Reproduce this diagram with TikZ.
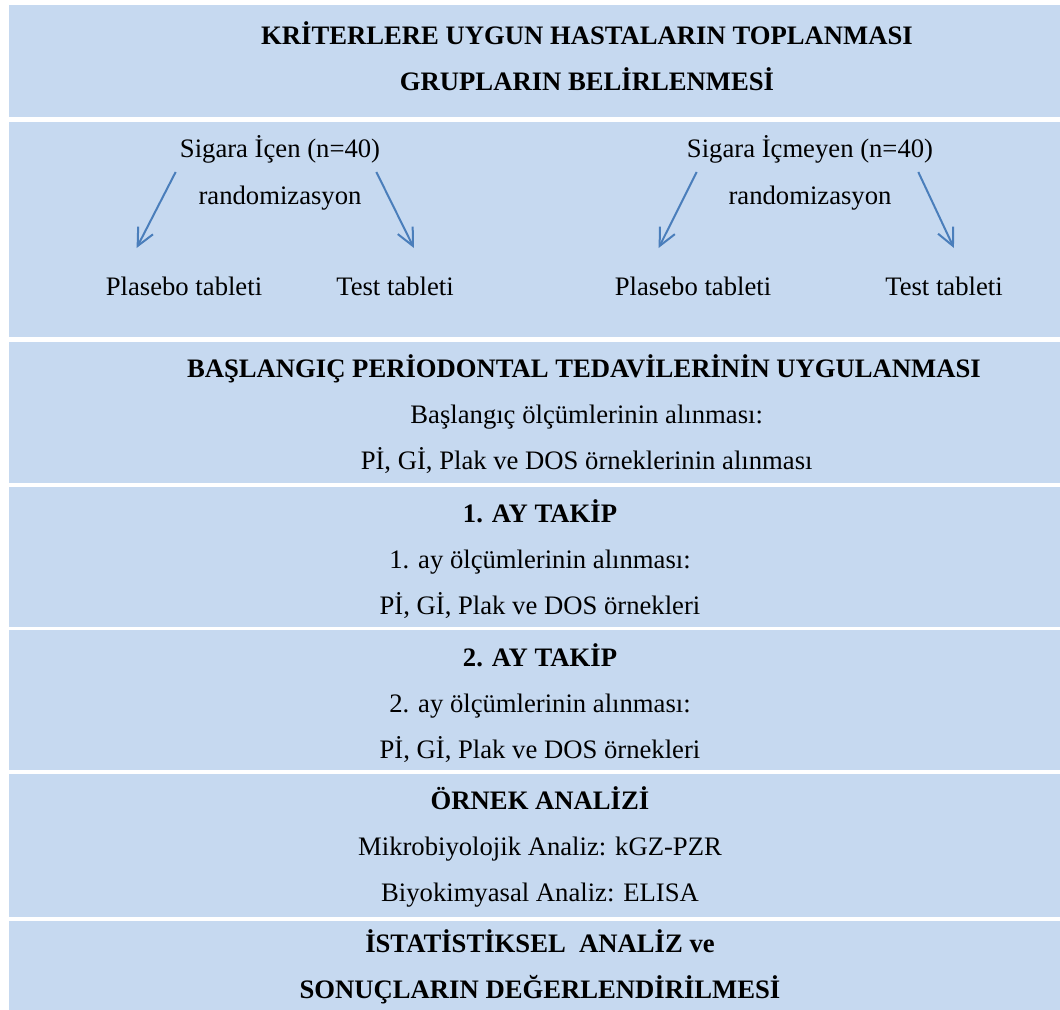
\documentclass[tikz,border=0pt]{standalone}
\usepackage{fontspec}
\setmainfont{Liberation Serif}
\usetikzlibrary{calc,arrows.meta}
\definecolor{bandblue}{HTML}{C6D9F0}
\definecolor{arrowblue}{HTML}{4A7EBB}
\tikzstyle{band} = [fill=bandblue]
\tikzstyle{txt} = [inner sep=0pt, text height=14pt, text depth=5pt, font=\fontsize{20}{24}\selectfont]
\tikzstyle{head} = [txt, font=\fontsize{20}{24}\selectfont\bfseries]
\tikzstyle{line} = [draw=arrowblue, line width=1.5pt, -{Straight Barb[length=13pt,width=12.5pt]}]

\begin{document}
\begin{tikzpicture}[x=0.75pt, y=-0.75pt, node distance=34.5pt]
        \useasboundingbox (0,0) rectangle (1060,1010);
        % background bands
        \foreach \top/\bot in {5/117, 122/337, 342/483, 487/627, 630/770, 774/917, 921/1010}
            \fill[band] (9,\top) rectangle (1060,\bot);
        % title
        \node[head, anchor=base] (kriter) at (587,44) {KRİTERLERE UYGUN HASTALARIN TOPLANMASI};
        \node[head, below of=kriter] (grup) {GRUPLARIN BELİRLENMESİ};
        % groups
        \node[txt, anchor=base] (icen) at (280,157) {Sigara İçen (n=40)};
        \node[txt, below of=icen, yshift=-1pt] (rand1) {randomizasyon};
        \node[txt, anchor=base] (plas1) at (184,295) {Plasebo tableti};
        \node[txt, anchor=base] (test1) at (395,295) {Test tableti};
        \node[txt, anchor=base] (icmez) at (810,157) {Sigara İçmeyen (n=40)};
        \node[txt, below of=icmez, yshift=-1pt] (rand2) {randomizasyon};
        \node[txt, anchor=base] (plas2) at (693,295) {Plasebo tableti};
        \node[txt, anchor=base] (test2) at (944,295) {Test tableti};
        \path[line] ($(icen.base west)+(-4,15)$) -- ($(plas1.base west)+(31,-47)$);
        \path[line] ($(icen.base east)+(-4,15)$) -- ($(test1.base east)+(-40,-47)$);
        \path[line] ($(icmez.base west)+(10,15)$) -- ($(plas2.base west)+(44,-47)$);
        \path[line] ($(icmez.base east)+(-15,15)$) -- ($(test2.base east)+(-49,-47)$);
        % baseline treatment
        \node[head, anchor=base] (basla) at (584,377) {BAŞLANGIÇ PERİODONTAL TEDAVİLERİNİN UYGULANMASI};
        \node[txt, below of=basla, xshift=2pt] (olc0) {Başlangıç ölçümlerinin alınması:};
        \node[txt, below of=olc0] (orn0) {Pİ, Gİ, Plak ve DOS örneklerinin alınması};
        % 1st month
        \node[head, anchor=base] (ay1) at (540,522) {1. AY TAKİP};
        \node[txt, below of=ay1] (olc1) {1. ay ölçümlerinin alınması:};
        \node[txt, below of=olc1] (orn1) {Pİ, Gİ, Plak ve DOS örnekleri};
        % 2nd month
        \node[head, anchor=base] (ay2) at (540,666) {2. AY TAKİP};
        \node[txt, below of=ay2] (olc2) {2. ay ölçümlerinin alınması:};
        \node[txt, below of=olc2] (orn2) {Pİ, Gİ, Plak ve DOS örnekleri};
        % sample analysis
        \node[head, anchor=base] (analiz) at (540,809) {ÖRNEK ANALİZİ};
        \node[txt, below of=analiz] (mikro) {Mikrobiyolojik Analiz: kGZ-PZR};
        \node[txt, below of=mikro] (biyo) {Biyokimyasal Analiz: ELISA};
        % statistics
        \node[head, anchor=base] (istat) at (540,952) {İSTATİSTİKSEL\ \ ANALİZ ve};
        \node[head, below of=istat] (sonuc) {SONUÇLARIN DEĞERLENDİRİLMESİ};
    \end{tikzpicture}
\end{document}
